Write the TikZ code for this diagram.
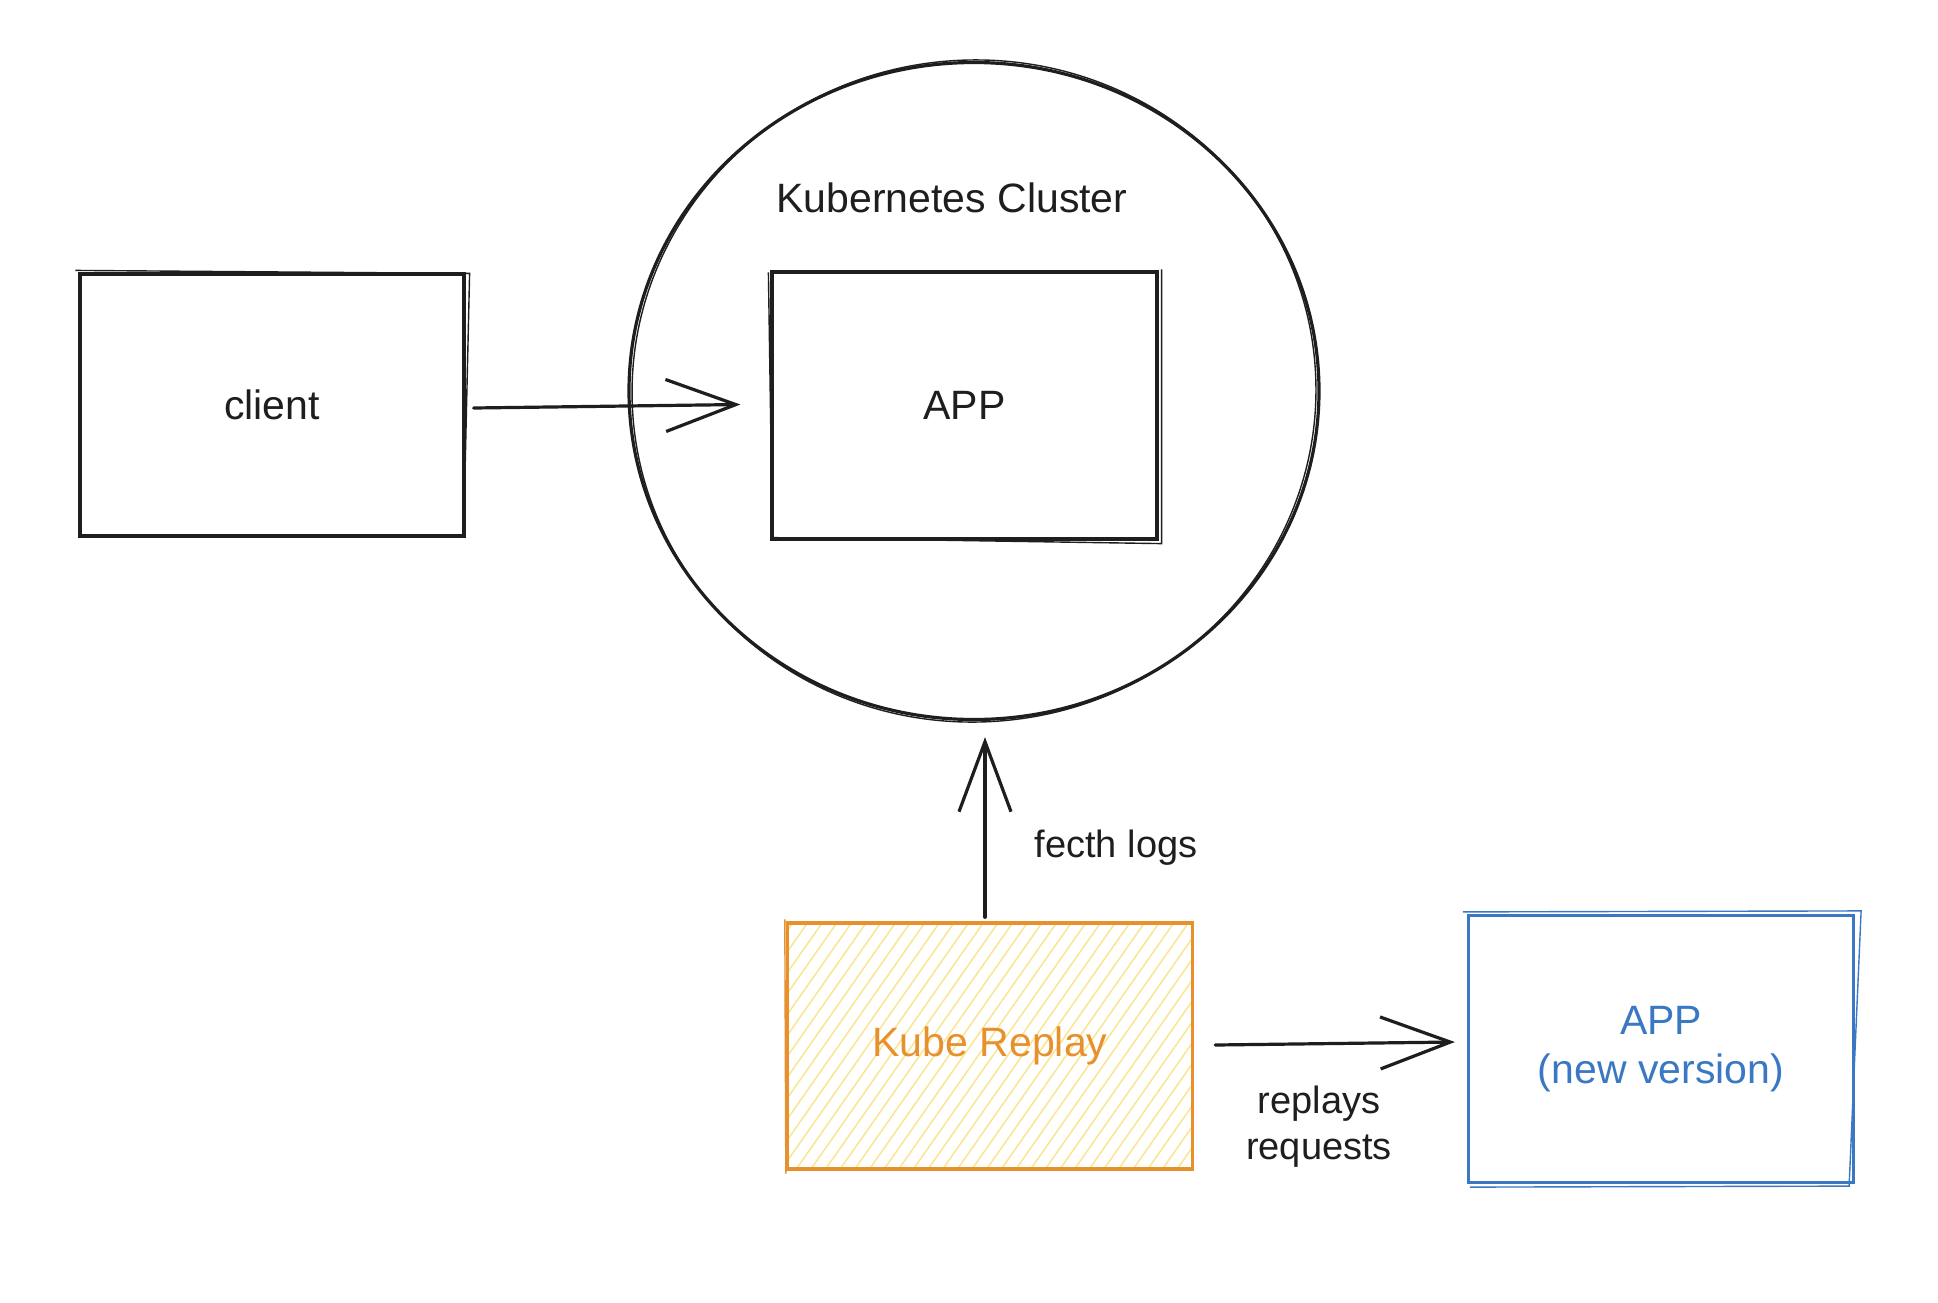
\documentclass[tikz,border=0pt]{standalone}
\usepackage{fontspec}
\setmainfont{Liberation Sans}
\usetikzlibrary{arrows.meta,shapes.geometric,patterns.meta}
\definecolor{ink}{HTML}{1E1E1E}
\definecolor{orng}{HTML}{E6902E}
\definecolor{hatch}{HTML}{FBE38C}
\definecolor{blu}{HTML}{3A78C3}
\tikzset{
  hand/.style={font=\fontsize{41}{49}\selectfont, text=ink},
  plain/.style={font=\fontsize{38}{46}\selectfont, text=ink},
  box/.style={draw=ink, line width=3.2pt, rectangle, inner sep=0pt},
  sketch/.style={line width=1.4pt},
  arr/.style={draw=ink, line width=3.2pt, line cap=round, -{Straight Barb[length=70pt,width=52pt,line width=3.2pt]}}
}
\begin{document}
\begin{tikzpicture}[x=1pt,y=-1pt]
\useasboundingbox (0,0) rectangle (1938,1302);
\fill[white] (0,0) rectangle (1938,1302);

% cluster ellipse
\node[ellipse, draw=ink, line width=3.2pt, minimum width=690pt, minimum height=657pt, inner sep=0pt] (cluster) at (974,391) {};
\draw[ink, sketch] (cluster.center) ellipse [x radius=342pt, y radius=331pt, rotate=4];
\node[hand] (k8s) at (952,198) {Kubernetes Cluster};

% client
\node[box, minimum width=384pt, minimum height=262pt, hand] (client) at (272,405) {client};
\draw[ink, sketch] ([shift={(-3pt,2pt)}]client.north west) -- ([shift={(4pt,-1pt)}]client.north east) -- ([shift={(-2pt,3pt)}]client.south east);

% APP in cluster
\node[box, minimum width=385pt, minimum height=267pt, hand] (app) at (964.5,405.5) {APP};
\draw[ink, sketch] ([shift={(-2pt,-2pt)}]app.north west) -- ([shift={(2pt,3pt)}]app.south west) -- ([shift={(3pt,-3pt)}]app.south east) -- ([shift={(3pt,1pt)}]app.north east);

% Kube Replay
\node[draw=orng, line width=3.4pt, rectangle, inner sep=0pt, minimum width=405pt, minimum height=246pt,
      pattern={Lines[angle=55,distance=12pt,line width=1.4pt]}, pattern color=hatch] (kube) at (990,1046) {};
\node[hand, text=orng] (kubelabel) at (kube.center) {Kube Replay};
\draw[orng, sketch] ([shift={(-2pt,3pt)}]kube.north west) -- ([shift={(-1pt,-4pt)}]kube.south west);

% new APP
\node[draw=blu, line width=3.2pt, rectangle, inner sep=0pt, minimum width=385pt, minimum height=267pt,
      hand, text=blu, align=center] (newapp) at (1661,1049) {APP\\(new version)};
\draw[blu, sketch] ([shift={(-4pt,2pt)}]newapp.north west) -- ([shift={(6pt,3pt)}]newapp.north east) -- ([shift={(-6pt,-2pt)}]newapp.south east) -- ([shift={(3pt,-3pt)}]newapp.south west);

% connectors
\draw[arr] ([xshift=8pt,yshift=-3pt]client.east) -- ([xshift=-30pt,yshift=1pt]app.west);
\draw[arr] ([xshift=-5pt,yshift=5pt]kube.north) -- ([xshift=-5pt,yshift=-16pt]kube.north |- cluster.south);
\draw[arr] ([xshift=22pt,yshift=1pt]kube.east) -- ([xshift=-12pt,yshift=4pt]kube.east -| newapp.west);

% labels
\node[plain] (fetch) at (1116,848) {fecth logs};
\node[plain, align=center] (replays) at (1319,1127) {replays\\requests};
\end{tikzpicture}
\end{document}
